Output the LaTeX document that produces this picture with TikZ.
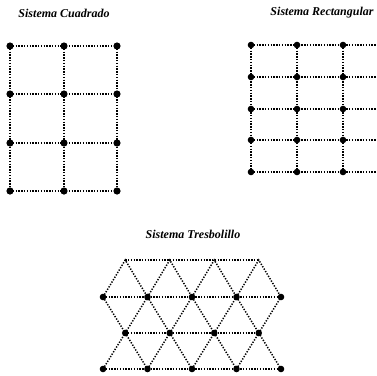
\documentclass[tikz,border=0pt]{standalone}
\usepackage{fontspec}
\setmainfont{Liberation Serif}
\usetikzlibrary{positioning}

\tikzset{
  punteado/.style={line width=1.5pt,dash pattern=on 1.3pt off 1.5pt},
  titulo/.style={font=\fontsize{12}{14}\selectfont\bfseries\itshape}
}

\begin{document}
\begin{tikzpicture}[x=1pt,y=-1pt]
\useasboundingbox (0,0) rectangle (377,375);
% sistema cuadrado
\node[titulo] (tcuad) at (64,13) {Sistema Cuadrado};
\foreach \i/\x in {1/10,2/64,3/117}
  \foreach \j/\y in {1/46,2/94,3/143,4/191}
    \coordinate (c\i\j) at (\x,\y);
\foreach \j in {1,...,4} \draw[punteado] (c1\j) -- (c3\j);
\foreach \i in {1,2,3} \draw[punteado] (c\i1) -- (c\i4);
\foreach \i in {1,2,3} \foreach \j in {1,...,4} \fill (c\i\j) circle (3.6);
% sistema rectangular
\node[titulo] (trect) at (322,13) {Sistema Rectangular};
\foreach \i/\x in {1/251,2/297,3/343,4/377}
  \foreach \j/\y in {1/45,2/77,3/109,4/140,5/172}
    \coordinate (r\i\j) at (\x,\y);
\foreach \j in {1,...,5} \draw[punteado] (r1\j) -- (r4\j);
\foreach \i in {1,2,3} \draw[punteado] (r\i1) -- (r\i5);
\foreach \i in {1,2,3} \foreach \j in {1,...,5} \fill (r\i\j) circle (3.3);
% sistema tresbolillo
\node[titulo] (ttres) at (193,234) {Sistema Tresbolillo};
\foreach \k in {0,...,3} {
  \coordinate (t1\k) at (125.25+44.5*\k,260);
  \coordinate (t3\k) at (125.25+44.5*\k,333);
}
\foreach \k in {0,...,4} {
  \coordinate (t2\k) at (103+44.5*\k,297);
  \coordinate (t4\k) at (103+44.5*\k,369);
}
\draw[punteado] (t10) -- (t13);
\draw[punteado] (t30) -- (t33);
\draw[punteado] (t20) -- (t24);
\draw[punteado] (t40) -- (t44);
\foreach \k [evaluate=\k as \kk using int(\k+1)] in {0,...,3} {
  \draw[punteado] (t2\k) -- (t1\k) -- (t2\kk);
  \draw[punteado] (t2\k) -- (t3\k) -- (t2\kk);
  \draw[punteado] (t4\k) -- (t3\k) -- (t4\kk);
}
\foreach \k in {0,...,4} {
  \fill (t2\k) circle (3.3);
  \fill (t4\k) circle (3.3);
}
\foreach \k in {0,...,3} \fill (t3\k) circle (3.3);
\end{tikzpicture}
\end{document}
